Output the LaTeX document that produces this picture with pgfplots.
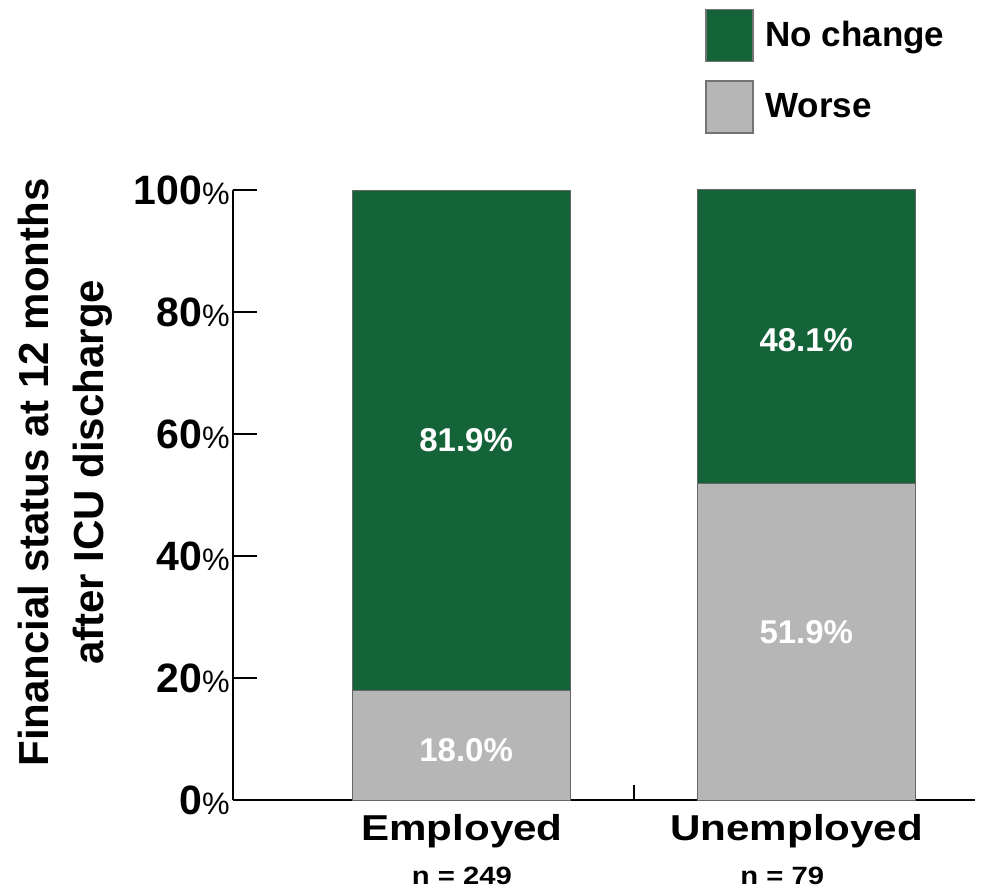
\documentclass[border=0pt]{standalone}
\usepackage{fontspec}
\setmainfont{Liberation Sans}
\newfontfamily\wide[FakeStretch=1.17]{Liberation Sans}
\usepackage{pgfplots}
\pgfplotsset{compat=1.18}
\definecolor{nochange}{RGB}{21,99,57}
\definecolor{worse}{RGB}{182,182,182}
\newcommand\pct{{\mdseries\fontsize{15.5}{15.5}\selectfont\%}}

\begin{document}
\begin{tikzpicture}
\begin{axis}[
    name=ax,
    scale only axis,
    width=371pt, height=305pt,
    xmin=-0.665, xmax=1.49,
    ymin=0, ymax=100,
    axis lines=left,
    axis line style={-, line width=0.8pt},
    tick align=inside,
    major tick length=12pt,
    tick style={line width=0.8pt, black},
    xtick=\empty,
    extra x ticks={0.5,1.5},
    extra x tick labels={},
    extra x tick style={major tick length=7.5pt, tick align=inside},
    ytick={0,20,40,60,80,100},
    yticklabels={{0\pct},{20\pct},{40\pct},{60\pct},{80\pct},{100\pct}},
    yticklabel style={font=\bfseries\fontsize{20.5}{24}\selectfont, inner sep=1.5pt},
    ylabel={Financial status at 12 months\\after ICU discharge},
    ylabel style={at={(axis description cs:-0.2265,0.537)}, anchor=center,
        align=center, font=\bfseries\fontsize{21}{27.5}\selectfont},
    ybar stacked,
    bar width=109pt,
    clip=false,
    reverse legend,
    legend cell align=left,
    legend style={at={(axis description cs:0.636,1)}, anchor=south west,
        yshift=28pt, draw=none, fill=none, inner sep=0pt,
        row sep=9pt, font=\bfseries\fontsize{17.5}{20}\selectfont,
        nodes={inner xsep=6pt}},
    legend image code/.code={\draw[#1, draw=black!55, line width=0.6pt] (0pt,-13pt) rectangle (23.5pt,13pt);},
]
\addplot[fill=worse, draw=black!60, line width=0.5pt] coordinates {(0,18.0) (1,51.9)};
\addplot[fill=nochange, draw=black!60, line width=0.5pt] coordinates {(0,81.9) (1,48.1)};
\legend{Worse, No change}

\coordinate (e1) at (axis cs:0.012,8.2);
\coordinate (e2) at (axis cs:0.012,59);
\coordinate (u1) at (axis cs:1,27.5);
\coordinate (u2) at (axis cs:1,75.4);

\node[anchor=base, font=\wide\bfseries\fontsize{18}{20}\selectfont, yshift=-20pt] at (axis cs:0,0) {Employed};
\node[anchor=base, font=\wide\bfseries\fontsize{18}{20}\selectfont, yshift=-20pt] at (axis cs:0.972,0) {Unemployed};
\node[anchor=base, font=\wide\bfseries\fontsize{12.5}{14}\selectfont, yshift=-42pt] at (axis cs:0,0) {n = 249};
\node[anchor=base, font=\wide\bfseries\fontsize{12.5}{14}\selectfont, yshift=-42pt] at (axis cs:0.93,0) {n = 79};
\end{axis}
\begin{scope}[every node/.style={text=white, font=\bfseries\fontsize{16.5}{18}\selectfont}]
\node at (e1) {18.0\%};
\node at (e2) {81.9\%};
\node at (u1) {51.9\%};
\node at (u2) {48.1\%};
\end{scope}
\pgfresetboundingbox
\path (ax.south west) ++(-116.5pt,-44pt) rectangle ++(492pt,444pt);
\end{tikzpicture}
\end{document}
